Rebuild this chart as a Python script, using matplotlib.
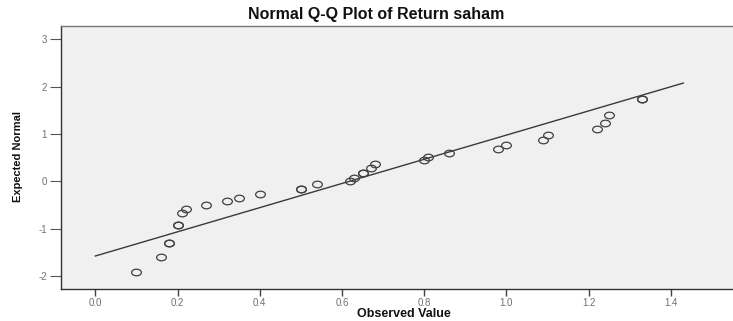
import numpy as np
import matplotlib
matplotlib.use("Agg")
import matplotlib.pyplot as plt
from matplotlib.path import Path

# Observed values (ties repeated) and expected normal values
observed = [0.10, 0.16, 0.18, 0.18, 0.20, 0.20, 0.21, 0.22, 0.27, 0.32, 0.35, 0.40,
            0.50, 0.50, 0.54, 0.62, 0.63, 0.65, 0.65, 0.67, 0.68, 0.80, 0.81, 0.86,
            0.98, 1.00, 1.09, 1.10, 1.22, 1.24, 1.25, 1.33, 1.33]
expected = [-1.92, -1.60, -1.29, -1.29, -0.91, -0.91, -0.67, -0.58, -0.50, -0.42, -0.34, -0.27,
            -0.17, -0.17, -0.055, 0.01, 0.08, 0.18, 0.18, 0.29, 0.37, 0.445, 0.52, 0.60,
            0.68, 0.77, 0.87, 0.98, 1.10, 1.23, 1.39, 1.745, 1.745]
# reference line parameters (mean, sd) and x extent
line_mean = 0.617
line_sd = 0.392
line_x = [0.0, 1.43]

xticks = [0.0, 0.2, 0.4, 0.6, 0.8, 1.0, 1.2, 1.4]
xticklabels = ["0.0", "0.2", "0.4", "0.6", "0.8", "1.0", "1.2", "1.4"]
yticks = [-2, -1, 0, 1, 2, 3]
yticklabels = ["-2", "-1", "0", "1", "2", "3"]

W, H = 733, 321
fig = plt.figure(figsize=(W / 100, H / 100), dpi=100)
fig.patch.set_facecolor("white")
ax = fig.add_axes([61 / W, 1 - 289 / H, 1 - 61 / W, (289 - 26) / H])
ax.set_facecolor("#f0f0f0")

ax.set_xlim(-0.0835, 1.551)
ax.set_ylim(-2.27, 3.278)

# elliptical open marker (image is squashed vertically)
circ = Path.unit_circle()
ell = Path(circ.vertices * np.array([1.0, 0.68]), circ.codes)

lx = np.array(line_x)
ax.plot(lx, (lx - line_mean) / line_sd, color="#3a3a3a", lw=1.0, zorder=2)
ax.plot(observed, expected, linestyle="none", marker=ell, markersize=7,
        markerfacecolor="none", markeredgecolor="#404040", markeredgewidth=0.9, zorder=3)

ax.set_xticks(xticks)
ax.set_xticklabels(xticklabels)
ax.set_yticks(yticks)
ax.set_yticklabels(yticklabels)
ax.tick_params(axis="x", direction="out", length=5, width=1, color="#444444",
               labelsize=7, labelcolor="#707070", pad=1.5)
ax.tick_params(axis="y", direction="out", length=8, width=0.8, color="#555555",
               labelsize=7, labelcolor="#707070", pad=2)
for lab in ax.get_xticklabels() + ax.get_yticklabels():
    lab.set_family(["Liberation Sans", "DejaVu Sans"])

for s in ["left", "bottom"]:
    ax.spines[s].set_color("#333333")
    ax.spines[s].set_linewidth(1.0)
ax.spines["top"].set_color("#777777")
ax.spines["top"].set_linewidth(1.0)
ax.spines["right"].set_visible(False)

fig.text(376 / W, 1 - 15 / H, "Normal Q-Q Plot of Return saham", ha="center", va="center",
         fontsize=11.5, fontweight="bold", family=["Liberation Sans", "DejaVu Sans"], color="#111111")
fig.text(404 / W, 1 - 314 / H, "Observed Value", ha="center", va="center",
         fontsize=9, fontweight="bold", family=["Liberation Sans", "DejaVu Sans"], color="#111111")
fig.text(18 / W, 1 - 157 / H, "Expected Normal", ha="center", va="center", rotation=90,
         fontsize=8, fontweight="bold", family=["Liberation Sans", "DejaVu Sans"],
         color="#111111")

fig.savefig("out.png", dpi=100, facecolor="white")
